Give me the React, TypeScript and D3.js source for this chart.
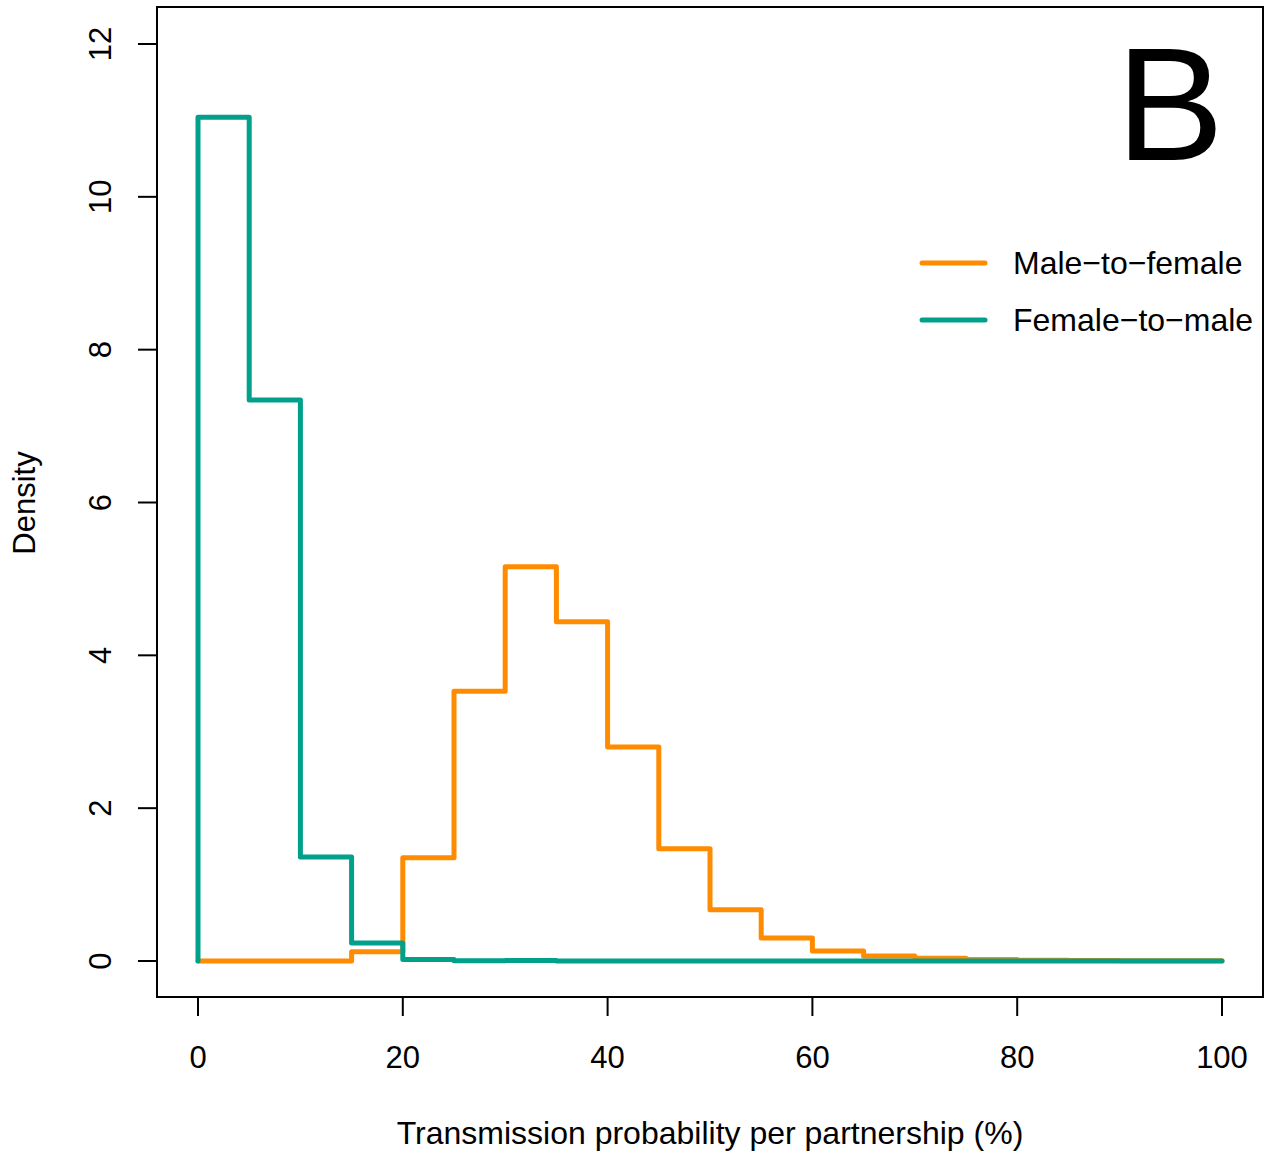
import React from "react";
import * as d3 from "d3";

const binEdges = [0,5,10,15,20,25,30,35,40,45,50,55,60,65,70,75,80,85,90,95,100];
const maleToFemale = [0,0,0,0.12,1.35,3.53,5.16,4.44,2.8,1.47,0.67,0.3,0.13,0.065,0.035,0.02,0.01,0.005,0.003,0.002];
const femaleToMale = [11.04,7.34,1.36,0.235,0.02,0.003,0.006,0,0,0,0,0,0,0,0,0,0,0,0,0];
const xTicks = [0,20,40,60,80,100];
const yTicks = [0,2,4,6,8,10,12];
const seriesNames = ["Male\u2212to\u2212female","Female\u2212to\u2212male"];
const seriesColors = ["#FF8C00","#00A08A"];

const W = 1272, H = 1152;
const box = { l: 157, r: 1263, t: 7, b: 997 };
const x = d3.scaleLinear().domain([0,100]).range([198,1222]);
const y = d3.scaleLinear().domain([0,12]).range([961,44]);
const font = "'Liberation Sans', Arial, Helvetica, sans-serif";

function stepPath(vals: number[]) {
  const pts: [number, number][] = [[binEdges[0], 0]];
  vals.forEach((v, i) => {
    pts.push([binEdges[i], v]);
    pts.push([binEdges[i + 1], v]);
  });
  pts.push([binEdges[binEdges.length - 1], 0]);
  return d3.line<[number, number]>().x(d => x(d[0])).y(d => y(d[1]))(pts) || "";
}

export default function App() {
  return (
    <svg width={W} height={H} style={{ position: "absolute", left: 0, top: 0, background: "#fff" }} fontFamily={font}>
      <rect x={0} y={0} width={W} height={H} fill="#fff" />
      {[maleToFemale, femaleToMale].map((s, i) => (
        <path key={i} d={stepPath(s)} fill="none" stroke={seriesColors[i]} strokeWidth={5}
          strokeLinejoin="round" strokeLinecap="round" />
      ))}
      <rect x={box.l} y={box.t} width={box.r - box.l} height={box.b - box.t} fill="none" stroke="#000" strokeWidth={2} />
      {xTicks.map(t => (
        <g key={t}>
          <line x1={x(t)} x2={x(t)} y1={box.b} y2={box.b + 19} stroke="#000" strokeWidth={2} />
          <text x={x(t)} y={1068} fontSize={31} textAnchor="middle">{t}</text>
        </g>
      ))}
      {yTicks.map(t => (
        <g key={t}>
          <line x1={box.l} x2={box.l - 19} y1={y(t)} y2={y(t)} stroke="#000" strokeWidth={2} />
          <text transform={`translate(111,${y(t)}) rotate(-90)`} fontSize={31} textAnchor="middle">{t}</text>
        </g>
      ))}
      <text transform="translate(35,503) rotate(-90)" fontSize={31} textAnchor="middle">Density</text>
      <text x={710} y={1144} fontSize={32} textAnchor="middle">Transmission probability per partnership (%)</text>
      <text x={1170} y={160} fontSize={162} textAnchor="middle">B</text>
      {seriesNames.map((n, i) => (
        <g key={n}>
          <line x1={922} x2={985} y1={263 + i * 57} y2={263 + i * 57} stroke={seriesColors[i]} strokeWidth={5} strokeLinecap="round" />
          <text x={1013} y={263 + i * 57 + 11} fontSize={32}>{n}</text>
        </g>
      ))}
    </svg>
  );
}
